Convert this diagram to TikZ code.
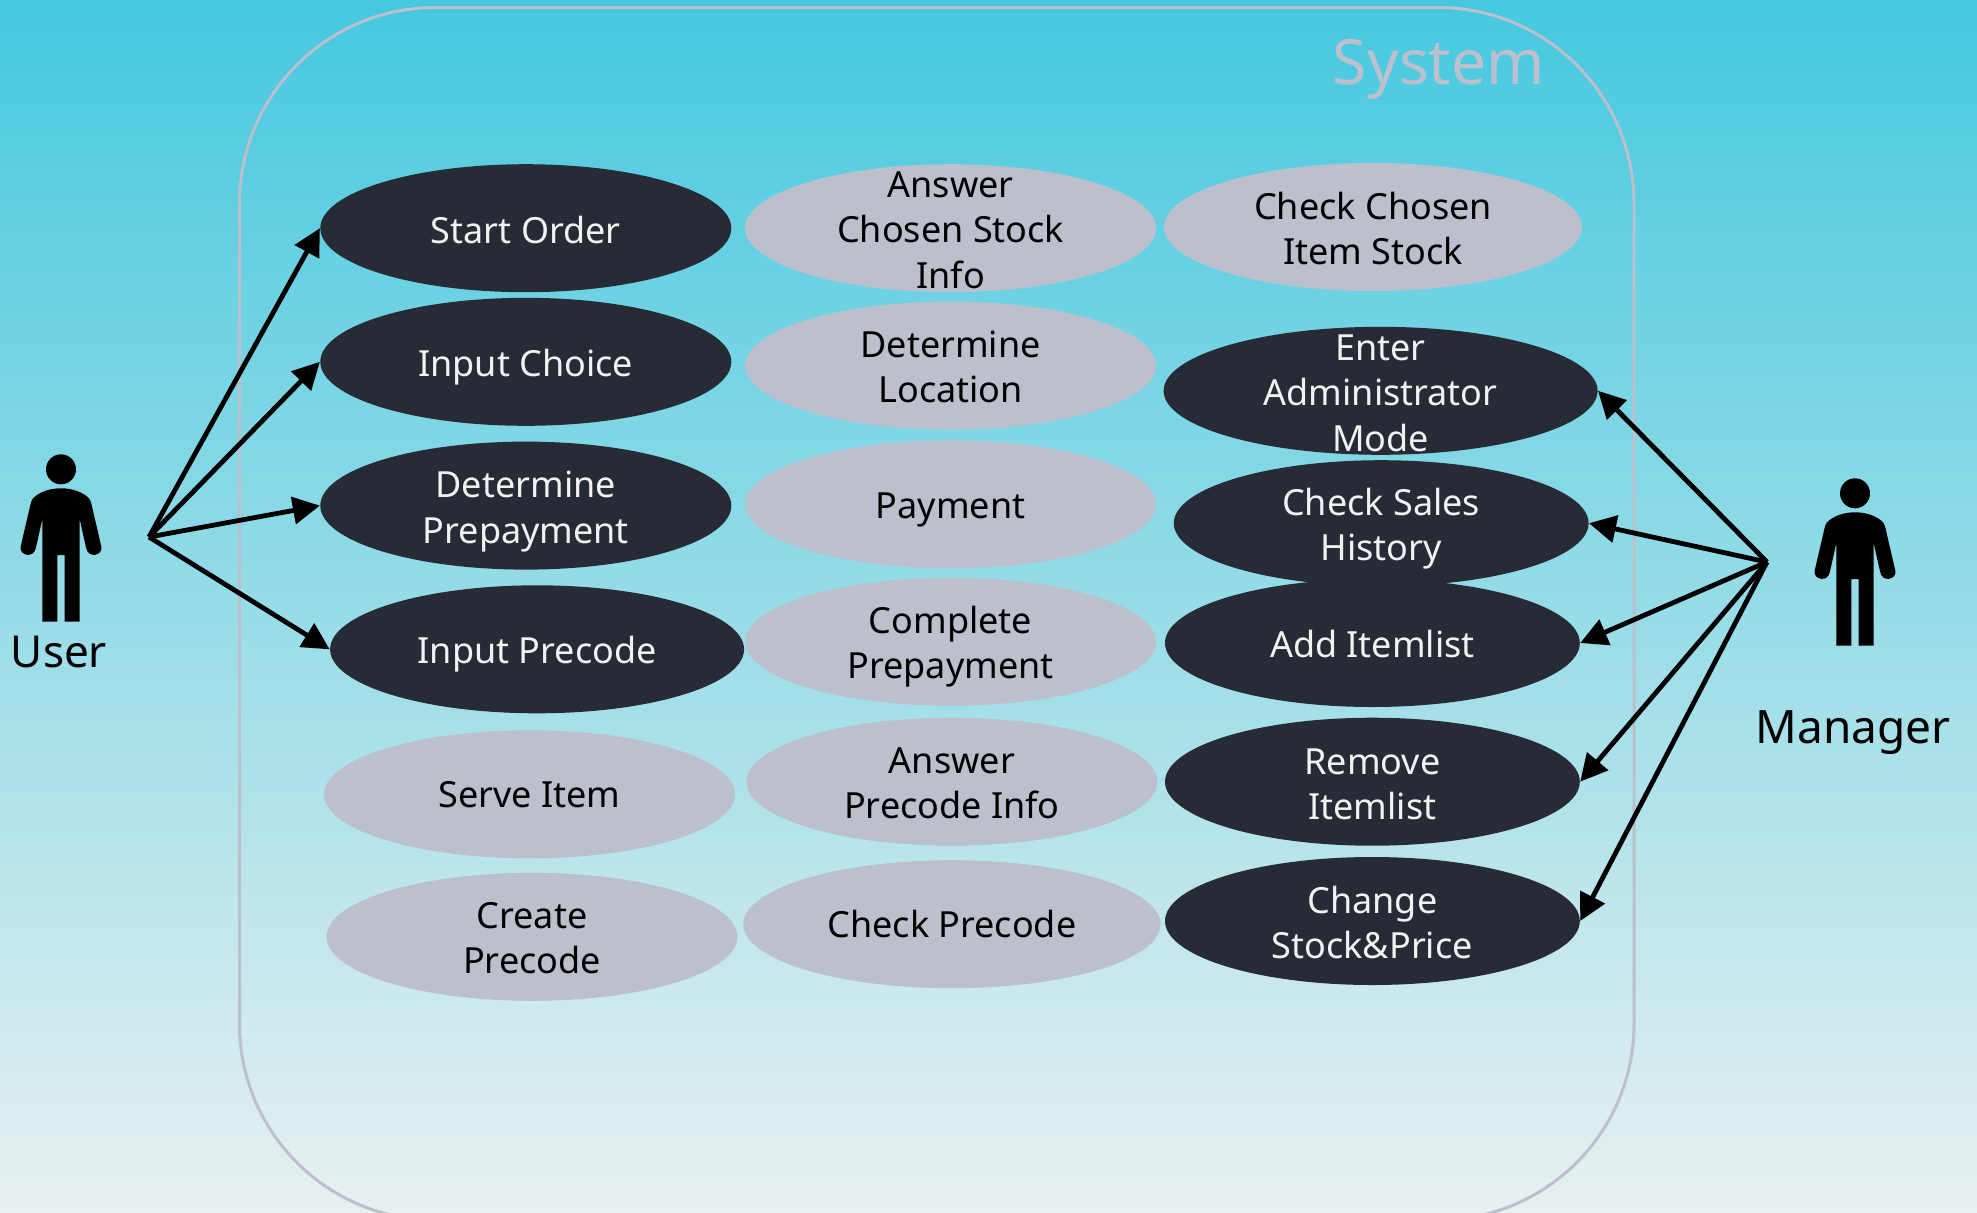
\documentclass[tikz,border=0pt]{standalone}
\usepackage{fontspec}
\setmainfont{Noto Sans}
\usetikzlibrary{shapes.geometric,arrows.meta}
\definecolor{bgtop}{HTML}{45C8DF}
\definecolor{bgbot}{HTML}{E8F0F0}
\definecolor{ucdark}{HTML}{262B35}
\definecolor{uclight}{HTML}{BBC0CC}
\definecolor{uctxt}{HTML}{F2F2F2}
\tikzset{
  dark uc/.style={ellipse,fill=ucdark,draw=none,inner sep=0pt},
  light uc/.style={ellipse,fill=uclight,draw=none,inner sep=0pt},
  dark txt/.style={text=uctxt,align=center,inner sep=0pt,font=\fontsize{18}{22.6}\selectfont},
  light txt/.style={text=black,align=center,inner sep=0pt,font=\fontsize{18}{22.6}\selectfont},
  actor txt/.style={text=black,inner sep=0pt,font=\fontsize{23}{28}\selectfont},
  link/.style={line width=2.4pt,-{Triangle[length=13.5pt,width=13.5pt]}},
  person/.pic={
    \fill[black] (0,0) circle[radius=15];
    \fill[black] (0,19) .. controls (-12,19) and (-22,23) .. (-28,29)
      .. controls (-29.5,31) and (-30,33) .. (-30.5,35) -- (-40.5,78)
      .. controls (-41.5,86) and (-27,90) .. (-25,78) -- (-18.7,50) -- (-18.7,152.3) -- (-3.7,152.3) -- (-3.7,85.7)
      -- (3.7,85.7) -- (3.7,152.3) -- (18.7,152.3) -- (18.7,50) -- (25,78)
      .. controls (27,90) and (41.5,86) .. (40.5,78) -- (30.5,35)
      .. controls (30,33) and (29.5,31) .. (28,29) .. controls (22,23) and (12,19) .. (0,19) -- cycle;
  }
}
% name, cx, cy, rx, ry, kind, text, text y shift (in px of the reference)
\newcommand\uc[8]{%
  \node[#6 uc,minimum width=#4pt,minimum height=#5pt] (#1) at (#2,#3) {};
  \node[#6 txt] (#1t) at ([yshift=-#8*0.5pt]#1.center) {#7};
}
\begin{document}
\begin{tikzpicture}[x=0.5pt,y=-0.5pt]
\useasboundingbox (0,0) rectangle (1977,1212);
\fill[top color=bgtop,bottom color=bgbot] (0,0) rectangle (1977,1212);
\begin{scope}
\clip (0,0) rectangle (1977,1212);
\draw[uclight,line width=1.5pt,rounded corners=98pt] (239.5,7.5) rectangle (1634,1220);
\end{scope}
\node[text=uclight,inner sep=0pt,font=\fontsize{31.2}{38}\selectfont] (sys) at (1439,69) {System};

\uc{so}{525.8}{228.2}{205.5}{64}{dark}{Start Order}{1.5}
\uc{ic}{525.8}{361.8}{205.5}{64}{dark}{Input Choice}{5}
\uc{dp}{525.8}{505.6}{205.5}{64}{dark}{Determine\\Prepayment}{6}
\uc{ip}{537.1}{649.3}{207}{64}{dark}{Input Precode}{5}
\uc{si}{529.5}{794.3}{205.5}{64}{light}{Serve Item}{0}
\uc{cp}{532}{936.8}{205.5}{64}{light}{Create\\Precode}{1.5}

\uc{ac}{950.6}{228.2}{205.5}{64}{light}{Answer\\Chosen Stock\\Info}{2}
\uc{dl}{950.6}{365.6}{205.5}{64}{light}{Determine\\Location}{1.5}
\uc{pa}{950.6}{504.3}{205.5}{64}{light}{Payment}{6}
\uc{cm}{950.6}{641.7}{205.5}{64}{light}{Complete\\Prepayment}{5}
\uc{ap}{951.9}{781.7}{205.5}{64}{light}{Answer\\Precode Info}{1.5}
\uc{ck}{951.9}{924.2}{208.6}{64}{light}{Check Precode}{0}

\uc{cc}{1373}{227}{209}{64}{light}{Check Chosen\\Item Stock}{1.5}
\uc{en}{1380.6}{390.8}{217}{64}{dark}{Enter\\Administrator\\Mode}{2.5}
\uc{cs}{1381.2}{523.2}{207.4}{63}{dark}{Check Sales\\History}{5.5}
\uc{ad}{1372.4}{643}{207.4}{64}{dark}{Add Itemlist}{1}
\uc{re}{1372.4}{781.7}{207.4}{64}{dark}{Remove\\Itemlist}{2.5}
\uc{ch}{1372.4}{921}{207.4}{64}{dark}{Change\\Stock\&Price}{1.5}

\pic at (61,469.3) {person};
\pic at (1855,493.3) {person};
\node[actor txt,font=\fontsize{22}{27}\selectfont] (user) at (59,652) {User};
\node[actor txt] (manager) at (1853,733) {Manager};

\coordinate (uh) at (149,537);
\coordinate (mh) at (1767,562);
\draw[link] (uh) -- (so.west);
\draw[link] (uh) -- (ic.west);
\draw[link] (uh) -- (dp.west);
\draw[link] (uh) -- (ip.west);
\draw[link] (mh) -- (en.east);
\draw[link] (mh) -- (cs.east);
\draw[link] (mh) -- (ad.east);
\draw[link] (mh) -- (re.east);
\draw[link] (mh) -- (ch.east);
\end{tikzpicture}
\end{document}
